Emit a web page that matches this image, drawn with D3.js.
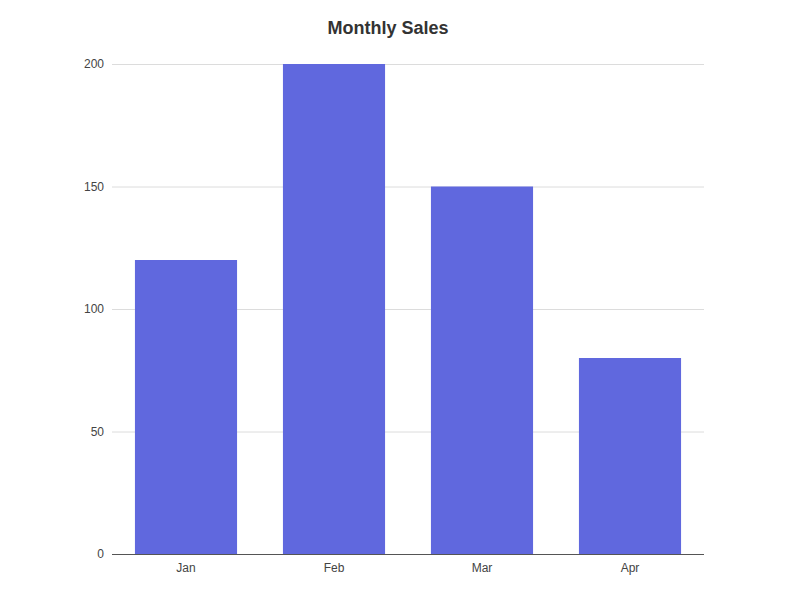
<!DOCTYPE html>
<html>
<head>
<meta charset="utf-8">
<script src="https://cdn.jsdelivr.net/npm/d3@7"></script>
<style>
  body { margin: 0; background: #fff; }
  text { font-family: "Liberation Sans", Arial, sans-serif; }
</style>
</head>
<body>
<div id="chart"></div>
<script>
const months = ["Jan", "Feb", "Mar", "Apr"];
const sales = [120, 200, 150, 80];
const yTicks = [0, 50, 100, 150, 200];

const width = 791;
const height = 608;
const margin = { top: 64, right: 87, bottom: 54, left: 112 };

const svg = d3.select("#chart")
  .append("svg")
  .attr("width", width)
  .attr("height", height);

const x = d3.scaleBand()
  .domain(months)
  .range([margin.left, width - margin.right])
  .paddingInner(0.31)
  .paddingOuter(0.155);

const y = d3.scaleLinear()
  .domain([0, 200])
  .range([height - margin.bottom, margin.top]);

// title
svg.append("text")
  .attr("x", 388)
  .attr("y", 34)
  .attr("text-anchor", "middle")
  .style("font-size", "18px")
  .style("font-weight", "bold")
  .style("fill", "#333")
  .text("Monthly Sales");

// grid
svg.append("g")
  .selectAll("line")
  .data(yTicks.filter(d => d > 0))
  .join("line")
    .attr("x1", margin.left)
    .attr("x2", width - margin.right)
    .attr("y1", d => y(d) + 0.5)
    .attr("y2", d => y(d) + 0.5)
    .attr("stroke", "#dcdcdc");

// y labels
svg.append("g")
  .selectAll("text")
  .data(yTicks)
  .join("text")
    .attr("x", margin.left - 8)
    .attr("y", d => y(d))
    .attr("dy", "0.35em")
    .attr("text-anchor", "end")
    .style("font-size", "12px")
    .style("fill", "#444")
    .text(d => d);

// bars
svg.append("g")
  .selectAll("rect")
  .data(months)
  .join("rect")
    .attr("x", d => x(d))
    .attr("y", (d, i) => y(sales[i]))
    .attr("width", x.bandwidth())
    .attr("height", (d, i) => y(0) - y(sales[i]))
    .attr("fill", "#6068de");

// x axis line
svg.append("line")
  .attr("x1", margin.left)
  .attr("x2", width - margin.right)
  .attr("y1", y(0) + 0.5)
  .attr("y2", y(0) + 0.5)
  .attr("stroke", "#555");

// x labels
svg.append("g")
  .selectAll("text")
  .data(months)
  .join("text")
    .attr("x", d => x(d) + x.bandwidth() / 2)
    .attr("y", y(0) + 18)
    .attr("text-anchor", "middle")
    .style("font-size", "12px")
    .style("fill", "#444")
    .text(d => d);
</script>
</body>
</html>
